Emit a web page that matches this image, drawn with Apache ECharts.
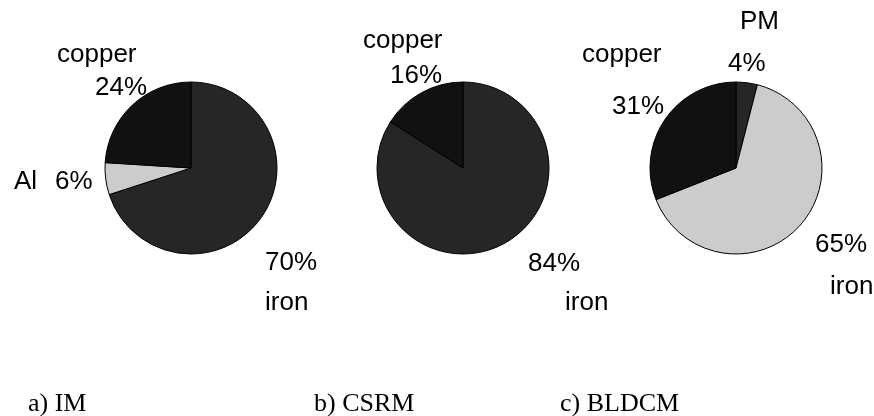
<!DOCTYPE html>
<html><head><meta charset="utf-8">
<script src="https://cdn.jsdelivr.net/npm/echarts@6/dist/echarts.min.js"></script>
<style>html,body{margin:0;padding:0;background:#fff}#c{width:874px;height:416px}</style>
</head><body><div id="c"></div>
<script>
// ---- data ----
const captions = ['a) IM', 'b) CSRM', 'c) BLDCM'];
const imNames = ['iron', 'Al', 'copper'];
const imValues = [70, 6, 24];
const csrmNames = ['iron', 'copper'];
const csrmValues = [84, 16];
const bldcmNames = ['PM', 'iron', 'copper'];
const bldcmValues = [4, 65, 31];

// ---- styles / layout ----
const DARK = '#262626', BLACK = '#111111', LIGHT = '#cccccc';
const imColors = [DARK, LIGHT, BLACK];
const csrmColors = [DARK, BLACK];
const bldcmColors = [DARK, LIGHT, BLACK];
const centers = [[191, 168], [463, 168], [736, 168]];
const radius = 86;
// per slice: [nameX, nameY, pctX, pctY]
const imLabelPos = [[265, 303, 265, 263], [14, 182, 55, 182], [57, 55, 95, 88]];
const csrmLabelPos = [[565, 303, 528, 264], [363, 41, 390, 76]];
const bldcmLabelPos = [[740, 22, 728, 64], [830, 287, 815, 245], [582, 55, 612, 107]];
const captionPos = [[28, 404], [314, 404], [560, 404]];

const pies = [
  {names: imNames, values: imValues, colors: imColors, pos: imLabelPos},
  {names: csrmNames, values: csrmValues, colors: csrmColors, pos: csrmLabelPos},
  {names: bldcmNames, values: bldcmValues, colors: bldcmColors, pos: bldcmLabelPos}
];

const labelFont = 'Liberation Sans, Arial, sans-serif';
const graphics = [];
pies.forEach(function (p) {
  p.names.forEach(function (n, i) {
    const q = p.pos[i];
    graphics.push({type: 'text', x: q[0], y: q[1], style: {text: n, font: '26px ' + labelFont, fill: '#000', align: 'left', verticalAlign: 'middle'}});
    graphics.push({type: 'text', x: q[2], y: q[3], style: {text: p.values[i] + '%', font: '26px ' + labelFont, fill: '#000', align: 'left', verticalAlign: 'middle'}});
  });
});
captions.forEach(function (c, i) {
  graphics.push({type: 'text', x: captionPos[i][0], y: captionPos[i][1], style: {text: c, font: '26px Liberation Serif, Times New Roman, serif', fill: '#000', align: 'left', verticalAlign: 'middle'}});
});

const series = pies.map(function (p, k) {
  return {
    type: 'pie',
    center: centers[k],
    radius: radius,
    startAngle: 90,
    clockwise: true,
    animation: false,
    silent: true,
    label: {show: false},
    labelLine: {show: false},
    itemStyle: {borderColor: '#000', borderWidth: 1},
    data: p.names.map(function (n, i) {
      return {name: n, value: p.values[i], itemStyle: {color: p.colors[i]}};
    })
  };
});

const chart = echarts.init(document.getElementById('c'), null, {renderer: 'canvas'});
chart.setOption({
  backgroundColor: '#fff',
  animation: false,
  series: series,
  graphic: graphics
});
</script>
</body></html>
